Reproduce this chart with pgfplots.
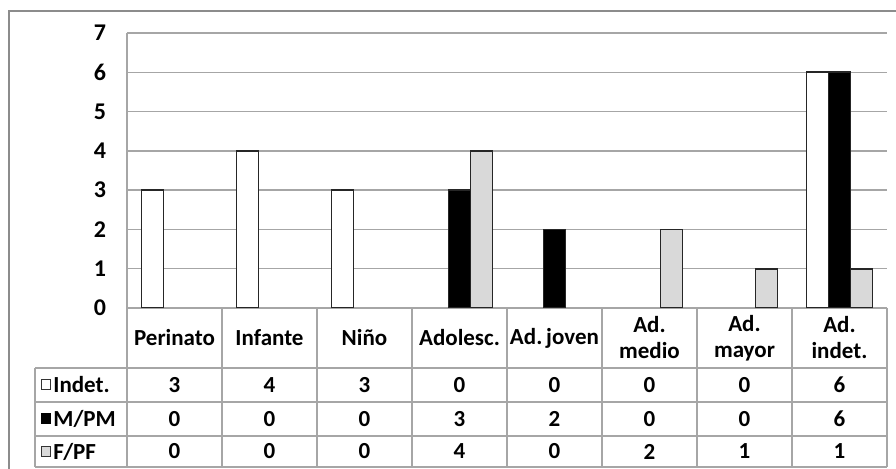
\documentclass[border=0pt]{standalone}
\usepackage{fontspec}
\setmainfont{Carlito}
\usepackage{pgfplots}
\usepackage{pgfplotstable}
\pgfplotsset{compat=1.18}

\definecolor{gridgray}{HTML}{A6A6A6}
\definecolor{framegray}{HTML}{8C8C8C}
\definecolor{barfill}{HTML}{D9D9D9}

% cat: 0 Perinato ... 7 Ad. indet.
\pgfplotstableread{
cat ind mpm fpf
0   3   0   0
1   4   0   0
2   3   0   0
3   0   3   4
4   0   2   0
5   0   0   2
6   0   0   1
7   6   6   1
}\datatab

\begin{document}
\begin{tikzpicture}[font=\bfseries\fontsize{11.5}{13}\selectfont]
\begin{axis}[
    at={(63.5pt,80.5pt)}, anchor=south west,
    scale only axis, width=380pt, height=137.5pt,
    xmin=-0.5, xmax=7.5, ymin=0, ymax=7,
    ytick={0,...,7}, xtick=\empty,
    axis lines*=left,
    axis line style={gridgray, line width=0.7pt},
    ymajorgrids,
    grid style={gridgray, line width=0.7pt},
    major tick length=0pt,
    yticklabel style={font=\bfseries\fontsize{12}{13}\selectfont, xshift=-7pt},
    /pgf/number format/assume math mode=true,
    ybar=0pt, bar width=11pt,
    y filter/.expression={y==0 ? nan : y},
    unbounded coords=discard,
    every axis plot/.append style={draw=black!85, line width=0.8pt},
]
\addplot[fill=white]   table[x=cat,y=ind]{\datatab};
\addplot[fill=black]   table[x=cat,y=mpm]{\datatab};
\addplot[fill=barfill] table[x=cat,y=fpf]{\datatab};
\end{axis}

\begin{scope}[x=0.5pt,y=0.5pt]
\useasboundingbox (0,0) rectangle (896,469);
\draw[framegray, line width=0.7pt] (9,0) -- (9,458) -- (897,458);

% data table under the chart
\foreach \yy in {101,67,33,2} \draw[gridgray, line width=0.7pt] (35,\yy) -- (887,\yy);
\draw[gridgray, line width=0.7pt] (35,101) -- (35,2);
\foreach \k in {0,...,8} \draw[gridgray, line width=0.7pt] ({127+95*\k},161) -- ({127+95*\k},2);

\foreach \k/\lab in {0/Perinato, 1/Infante, 2/Niño, 3/Adolesc., 4/Ad.\,joven,
                     5/{Ad.\\medio}, 6/{Ad.\\mayor}, 7/{Ad.\\indet.}}
    \node[align=center] at ({174.5+95*\k},131) {\lab};

\foreach \k in {0,...,7}{
    \pgfplotstablegetelem{\k}{ind}\of\datatab
    \node at ({174.5+95*\k},84) {\pgfplotsretval};
    \pgfplotstablegetelem{\k}{mpm}\of\datatab
    \node at ({174.5+95*\k},50) {\pgfplotsretval};
    \pgfplotstablegetelem{\k}{fpf}\of\datatab
    \node at ({174.5+95*\k},17.5) {\pgfplotsretval};
}

\draw[black!80, line width=0.5pt, fill=white]   (41,79) rectangle (50,89);
\draw[black, line width=0.5pt, fill=black]      (41,45) rectangle (50,55);
\draw[black!80, line width=0.5pt, fill=barfill] (41,12.5) rectangle (50,22.5);
\node[anchor=west, inner sep=0pt] at (53,84) {Indet.};
\node[anchor=west, inner sep=0pt] at (53,50) {M/PM};
\node[anchor=west, inner sep=0pt] at (53,17.5) {F/PF};
\end{scope}
\end{tikzpicture}
\end{document}
